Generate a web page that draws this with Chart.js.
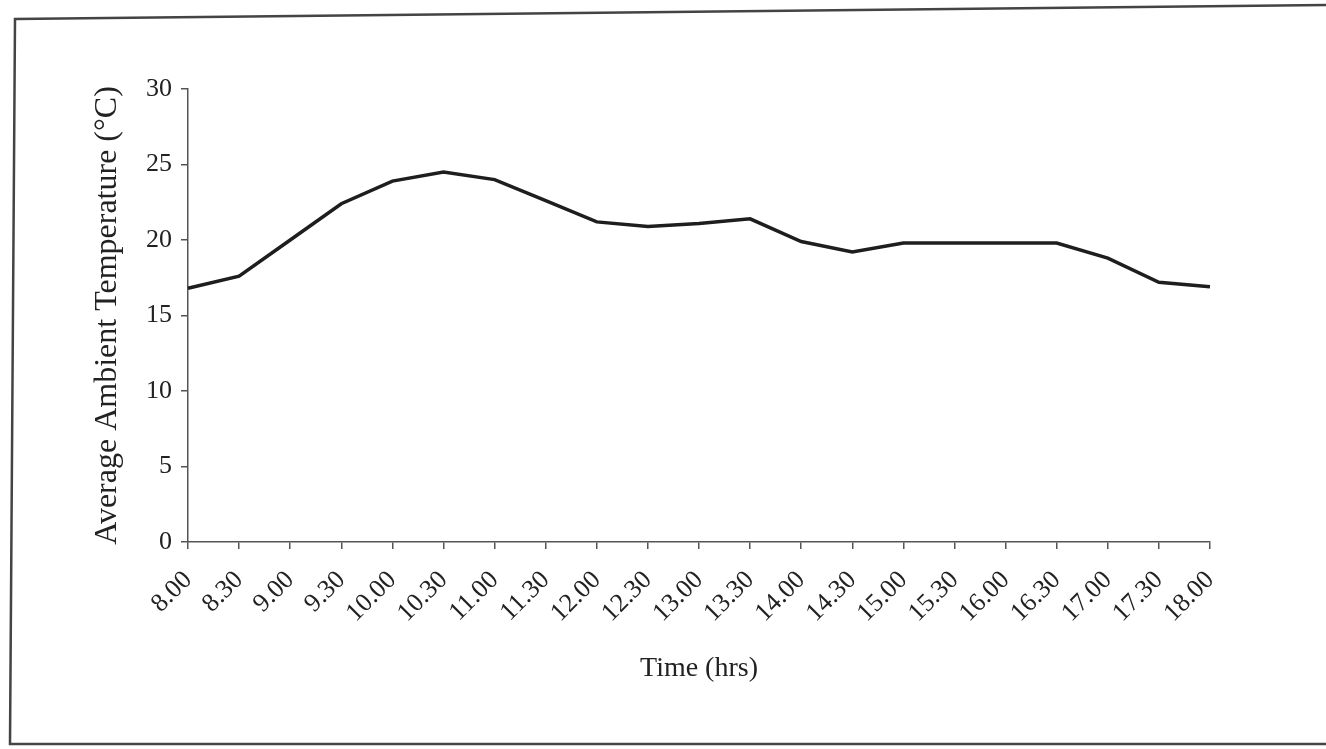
<!DOCTYPE html>
<html>
<head>
<meta charset="utf-8">
<script src="https://cdn.jsdelivr.net/npm/chart.js@4.4.1/dist/chart.umd.min.js"></script>
<style>
  html, body { margin: 0; padding: 0; background: #fff; }
  canvas { display: block; }
</style>
</head>
<body>
<canvas id="grafico" width="1326" height="749"></canvas>
<script>
// Dados
const horas = ['8.00', '8.30', '9.00', '9.30', '10.00', '10.30', '11.00', '11.30', '12.00', '12.30',
  '13.00', '13.30', '14.00', '14.30', '15.00', '15.30', '16.00', '16.30', '17.00', '17.30', '18.00'];
const temperaturas = [16.8, 17.6, 20.0, 22.4, 23.9, 24.5, 24.0, 22.6, 21.2, 20.9,
  21.1, 21.4, 19.9, 19.2, 19.8, 19.8, 19.8, 19.8, 18.8, 17.2, 16.9];
const tituloX = 'Time (hrs)';
const tituloY = 'Average Ambient Temperature (°C)';

const fonte = 'Liberation Serif, Times New Roman, serif';
const corEixo = '#555';

// Moldura da figura (borda escaneada)
const moldura = {
  id: 'moldura',
  afterDraw(chart) {
    const ctx = chart.ctx;
    ctx.save();
    ctx.strokeStyle = '#444';
    ctx.lineWidth = 2.5;
    ctx.beginPath();
    ctx.moveTo(1326, 5);
    ctx.lineTo(15, 19);
    ctx.lineTo(10, 744);
    ctx.lineTo(1326, 744);
    ctx.stroke();
    ctx.restore();
  }
};

new Chart(document.getElementById('grafico'), {
  type: 'line',
  data: {
    labels: horas,
    datasets: [{
      data: temperaturas,
      borderColor: '#1e1e1e',
      borderWidth: 3.5,
      pointRadius: 0,
      tension: 0,
      fill: false
    }]
  },
  options: {
    responsive: false,
    animation: false,
    layout: { padding: { top: 89, right: 116, bottom: 0, left: 0 } },
    plugins: { legend: { display: false }, tooltip: { enabled: false } },
    scales: {
      x: {
        offset: false,
        grid: { display: true, drawOnChartArea: false, drawTicks: true, tickLength: 7, color: corEixo, lineWidth: 1.5 },
        border: { display: true, color: corEixo, width: 1.5 },
        ticks: {
          autoSkip: false, maxRotation: 45, minRotation: 45, padding: 16,
          color: '#222', font: { family: fonte, size: 26 }
        },
        title: {
          display: true, text: tituloX, color: '#222',
          font: { family: fonte, size: 28 }, padding: { top: 0, bottom: 64 }
        },
        afterFit(scale) { scale.height = 207; }
      },
      y: {
        min: 0, max: 30,
        grid: { display: true, drawOnChartArea: false, drawTicks: true, tickLength: 7, color: corEixo, lineWidth: 1.5 },
        border: { display: true, color: corEixo, width: 1.5 },
        ticks: { stepSize: 5, padding: 9, color: '#222', font: { family: fonte, size: 26 } },
        title: {
          display: true, text: tituloY, color: '#222',
          font: { family: fonte, size: 32 }, padding: { top: 88, bottom: 0 }
        },
        afterFit(scale) { scale.width = 188; }
      }
    }
  },
  plugins: [moldura]
});
</script>
</body>
</html>
